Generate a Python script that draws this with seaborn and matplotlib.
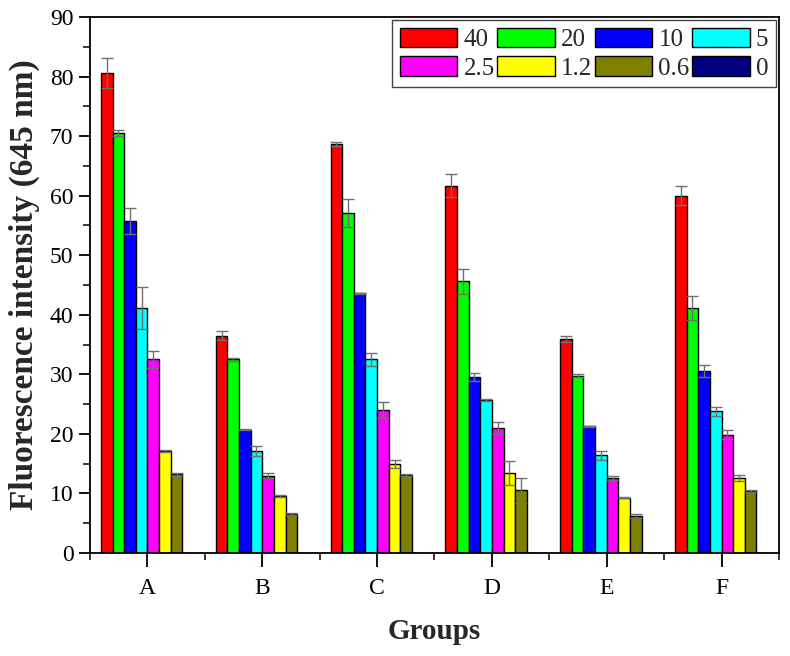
import matplotlib
matplotlib.use('Agg')
import matplotlib.pyplot as plt
import seaborn as sns
import pandas as pd
import numpy as np
from matplotlib.ticker import MultipleLocator, FixedLocator

# Data
groups = ['A', 'B', 'C', 'D', 'E', 'F']
concs = ['40', '20', '10', '5', '2.5', '1.2', '0.6', '0']
colors = ['#ff0000', '#00ff00', '#0000ff', '#00ffff', '#ff00ff', '#ffff00', '#808000', '#000080']

values = {
    '40':  [80.6, 36.5, 68.7, 61.7, 36.0, 60.0],
    '20':  [70.6, 32.5, 57.1, 45.6, 29.8, 41.2],
    '10':  [55.7, 20.7, 43.6, 29.6, 21.3, 30.5],
    '5':   [41.1, 17.1, 32.5, 25.7, 16.4, 23.8],
    '2.5': [32.5, 13.0, 24.0, 21.0, 12.6, 19.9],
    '1.2': [17.1, 9.6, 15.0, 13.5, 9.3, 12.6],
    '0.6': [13.2, 6.6, 13.1, 10.5, 6.2, 10.4],
    '0':   [0, 0, 0, 0, 0, 0],
}
errors = {
    '40':  [2.5, 0.8, 0.3, 2.0, 0.5, 1.6],
    '20':  [0.5, 0.3, 2.3, 2.1, 0.3, 2.0],
    '10':  [2.2, 0.1, 0.1, 0.7, 0.1, 1.0],
    '5':   [3.5, 0.8, 1.1, 0.1, 0.8, 0.8],
    '2.5': [1.5, 0.4, 1.3, 1.0, 0.3, 0.8],
    '1.2': [0.2, 0.2, 0.7, 2.0, 0.1, 0.5],
    '0.6': [0.2, 0.2, 0.1, 2.1, 0.3, 0.1],
    '0':   [0, 0, 0, 0, 0, 0],
}

rows = []
for c in concs:
    for g, v in zip(groups, values[c]):
        rows.append({'Group': g, 'Conc': c, 'Value': v})
df = pd.DataFrame(rows)

sns.set_style('ticks')
plt.rcParams['font.family'] = ['Liberation Serif', 'DejaVu Serif']

fig = plt.figure(figsize=(7.9, 6.56), dpi=100)
ax = fig.add_axes([0.114, 0.157, 0.872, 0.817])

sns.barplot(data=df, x='Group', y='Value', hue='Conc', hue_order=concs,
            order=groups, palette=colors, errorbar=None, width=0.81,
            edgecolor='black', linewidth=1.0, saturation=1, ax=ax)

# error bars on each bar, positioned from the drawn patches
for c, cont in zip(concs, ax.containers):
    xs = [p.get_x() + p.get_width() / 2 for p in cont]
    hs = [p.get_height() for p in cont]
    errs = errors[c]
    if max(errs) > 0:
        ax.errorbar(xs, hs, yerr=errs, fmt='none', ecolor='#707070',
                    elinewidth=1.0, capsize=4, capthick=1.0, zorder=3)

ax.set_xlim(-0.5, 5.5)
ax.set_ylim(0, 90)
ax.yaxis.set_major_locator(MultipleLocator(10))
ax.yaxis.set_minor_locator(MultipleLocator(5))
ax.xaxis.set_minor_locator(FixedLocator(np.arange(-0.5, 6.0, 1.0)))

for s in ax.spines.values():
    s.set_visible(True)
    s.set_linewidth(1.3)
    s.set_color('black')

ax.tick_params(axis='both', which='major', direction='out', width=1.3,
               labelsize=17, colors='black')
ax.tick_params(axis='y', which='major', length=8, pad=4)
ax.tick_params(axis='x', which='major', length=10, pad=8)
ax.tick_params(axis='both', which='minor', direction='out', length=5, width=1.3)

ax.set_xlabel('Groups', fontsize=21, fontweight='bold', labelpad=14)
ax.set_ylabel('Fluorescence intensity (645 nm)', fontsize=24, fontweight='bold', labelpad=7)

# legend filled row by row like the reference
handles, labels = ax.get_legend_handles_labels()
order = [0, 4, 1, 5, 2, 6, 3, 7]
leg = ax.legend([handles[i] for i in order], [labels[i] for i in order],
                ncol=4, loc='upper right', fontsize=18, handlelength=2.3,
                handleheight=0.85, columnspacing=0.1, handletextpad=0.25,
                labelspacing=0.2, borderaxespad=0.12, borderpad=0.3,
                frameon=True, fancybox=False, edgecolor='#444444', framealpha=1)
leg.get_frame().set_linewidth(1.0)
for h in leg.legend_handles:
    h.set_edgecolor('black')
    h.set_linewidth(1.0)

fig.savefig('out.png', dpi=100)
